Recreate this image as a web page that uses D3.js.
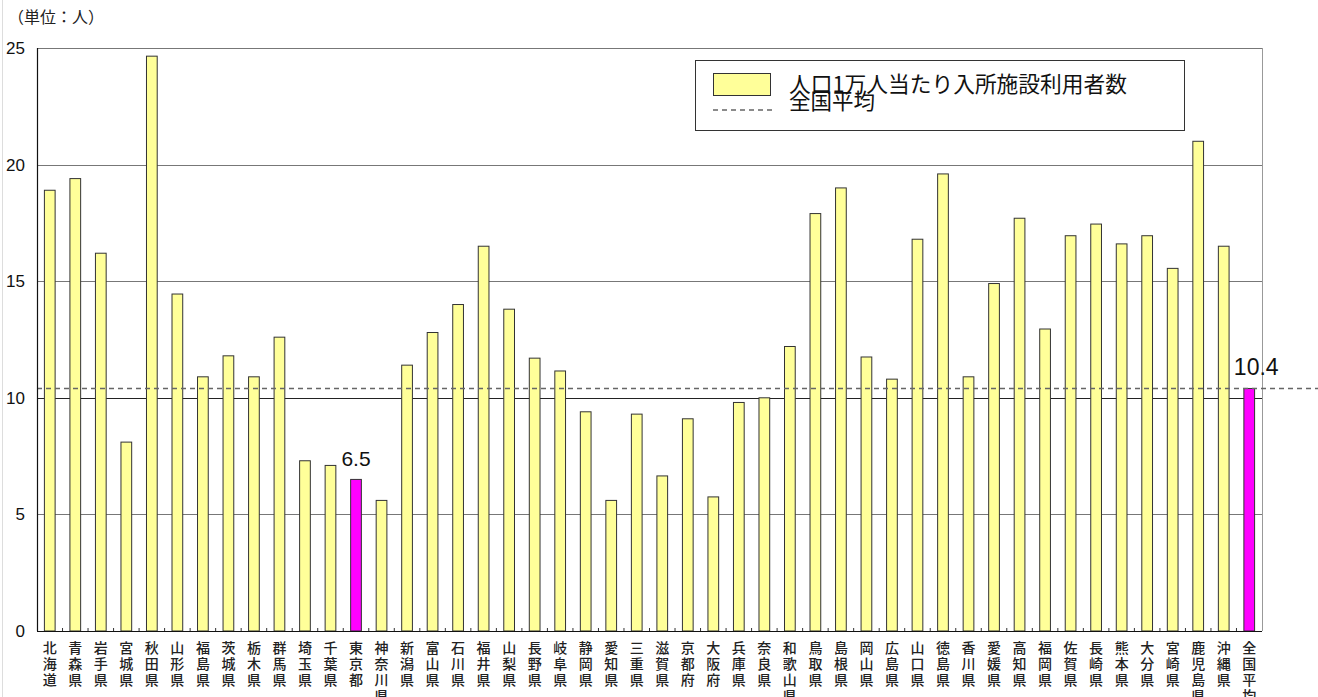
<!DOCTYPE html>
<html>
<head>
<meta charset="utf-8">
<script src="https://cdn.jsdelivr.net/npm/d3@7"></script>
<style>
  body { margin: 0; background: #fff; }
  svg { display: block; }
</style>
</head>
<body>
<svg id="chart"></svg>
<script>
const prefectures = ["北海道","青森県","岩手県","宮城県","秋田県","山形県","福島県","茨城県","栃木県","群馬県",
  "埼玉県","千葉県","東京都","神奈川県","新潟県","富山県","石川県","福井県","山梨県","長野県",
  "岐阜県","静岡県","愛知県","三重県","滋賀県","京都府","大阪府","兵庫県","奈良県","和歌山県",
  "鳥取県","島根県","岡山県","広島県","山口県","徳島県","香川県","愛媛県","高知県","福岡県",
  "佐賀県","長崎県","熊本県","大分県","宮崎県","鹿児島県","沖縄県","全国平均"];
const users = [18.9,19.4,16.2,8.1,24.65,14.45,10.9,11.8,10.9,12.6,
  7.3,7.1,6.5,5.6,11.4,12.8,14.0,16.5,13.8,11.7,
  11.15,9.4,5.6,9.3,6.65,9.1,5.75,9.8,10.0,12.2,
  17.9,19.0,11.75,10.8,16.8,19.6,10.9,14.9,17.7,12.95,
  16.95,17.45,16.6,16.95,15.55,21.0,16.5,10.4];
const highlighted = ["東京都","全国平均"];
const nationalAverage = 10.4;
const yTicks = [0,5,10,15,20,25];
const seriesName = "人口1万人当たり入所施設利用者数";
const avgName = "全国平均";
const unitLabel = "（単位：人）";

const width = 1318, height = 697;
const margin = {left: 37, right: 56, top: 48, bottom: 66};
const svg = d3.select("#chart").attr("width", width).attr("height", height)
  .style("font-family", "'Noto Sans CJK JP', 'Noto Sans', sans-serif");

const data = prefectures.map((p, i) => ({name: p, value: users[i]}));

const x = d3.scaleBand()
  .domain(prefectures)
  .range([margin.left, width - margin.right])
  .paddingInner(0.58)
  .paddingOuter(0.29);
const y = d3.scaleLinear().domain([0, 25]).range([height - margin.bottom, margin.top]);

// page border at left
svg.append("line").attr("x1", 2.5).attr("x2", 2.5).attr("y1", 0).attr("y2", height)
  .attr("stroke", "#ddd");

// unit label
svg.append("text").attr("x", 8).attr("y", 23).attr("font-size", 16).attr("fill", "#222")
  .text(unitLabel);

// gridlines
svg.append("g").selectAll("line")
  .data(yTicks.filter(d => d > 0))
  .join("line")
  .attr("x1", margin.left).attr("x2", width - margin.right)
  .attr("y1", d => Math.round(y(d)) + 0.5).attr("y2", d => Math.round(y(d)) + 0.5)
  .attr("stroke", d => d === 10 ? "#222" : "#777").attr("stroke-width", 1.2);

// right frame
svg.append("line")
  .attr("x1", width - margin.right + 0.5).attr("x2", width - margin.right + 0.5)
  .attr("y1", y(25)).attr("y2", y(0))
  .attr("stroke", "#999");

// y axis labels
svg.append("g").selectAll("text")
  .data(yTicks)
  .join("text")
  .attr("x", 25).attr("y", d => y(d) + 6)
  .attr("text-anchor", "end").attr("font-size", 17).attr("fill", "#111")
  .attr("font-family", "'Liberation Sans', Arial, sans-serif")
  .text(d => d);

// bars
svg.append("g").selectAll("rect")
  .data(data)
  .join("rect")
  .attr("x", d => x(d.name))
  .attr("y", d => y(d.value))
  .attr("width", x.bandwidth())
  .attr("height", d => y(0) - y(d.value))
  .attr("fill", d => highlighted.includes(d.name) ? "#ff00ff" : "#ffff99")
  .attr("stroke", "#333").attr("stroke-width", 1);

// national average dashed line
svg.append("line")
  .attr("x1", margin.left).attr("x2", width)
  .attr("y1", y(nationalAverage)).attr("y2", y(nationalAverage))
  .attr("stroke", "#666").attr("stroke-width", 1.6).attr("stroke-dasharray", "5,4");

// axes lines
svg.append("line").attr("x1", margin.left + 0.5).attr("x2", margin.left + 0.5)
  .attr("y1", y(25)).attr("y2", y(0)).attr("stroke", "#111").attr("stroke-width", 1.2);
svg.append("line").attr("x1", margin.left).attr("x2", width - margin.right)
  .attr("y1", y(0) + 0.5).attr("y2", y(0) + 0.5).attr("stroke", "#111").attr("stroke-width", 1.2);

// small category ticks
svg.append("g").selectAll("line")
  .data(prefectures.slice(1))
  .join("line")
  .attr("x1", d => x(d) - x.step() * x.paddingInner() / 2)
  .attr("x2", d => x(d) - x.step() * x.paddingInner() / 2)
  .attr("y1", y(0) - 3).attr("y2", y(0))
  .attr("stroke", "#333");

// value labels
svg.append("g").selectAll("text")
  .data(data.filter(d => highlighted.includes(d.name)))
  .join("text")
  .attr("x", d => x(d.name) + x.bandwidth() / 2 + (d.name === "全国平均" ? 7 : 0))
  .attr("y", d => y(d.value) - 13)
  .attr("text-anchor", "middle")
  .attr("font-size", d => d.name === "全国平均" ? 23 : 21).attr("fill", "#111")
  .attr("font-family", "'Liberation Sans', Arial, sans-serif")
  .text(d => d.value);

// x labels, vertical stacked characters
const lbl = svg.append("g").selectAll("text")
  .data(prefectures)
  .join("text")
  .attr("x", d => x(d) + x.bandwidth() / 2)
  .attr("y", y(0) + 22)
  .attr("text-anchor", "middle").attr("font-size", 14).attr("fill", "#222")
  .attr("font-weight", 500);
lbl.selectAll("tspan")
  .data(d => Array.from(d))
  .join("tspan")
  .attr("x", function() { return this.parentNode.getAttribute("x"); })
  .attr("dy", (d, i) => i === 0 ? 0 : 16)
  .text(d => d);

// legend
const lg = svg.append("g");
lg.append("rect").attr("x", 695.5).attr("y", 60.5).attr("width", 489).attr("height", 70)
  .attr("fill", "#fff").attr("stroke", "#333");
lg.append("rect").attr("x", 713.5).attr("y", 73.5).attr("width", 57).attr("height", 22)
  .attr("fill", "#ffff99").attr("stroke", "#333");
lg.append("text").attr("x", 789).attr("y", 92).attr("font-size", 21.5).attr("fill", "#111")
  .attr("textLength", 338).attr("lengthAdjust", "spacingAndGlyphs")
  .text(seriesName);
lg.append("line").attr("x1", 713).attr("x2", 776).attr("y1", 110).attr("y2", 110)
  .attr("stroke", "#666").attr("stroke-width", 1.4).attr("stroke-dasharray", "5,4");
lg.append("text").attr("x", 789).attr("y", 109).attr("font-size", 21.5).attr("fill", "#111")
  .text(avgName);
</script>
</body>
</html>
